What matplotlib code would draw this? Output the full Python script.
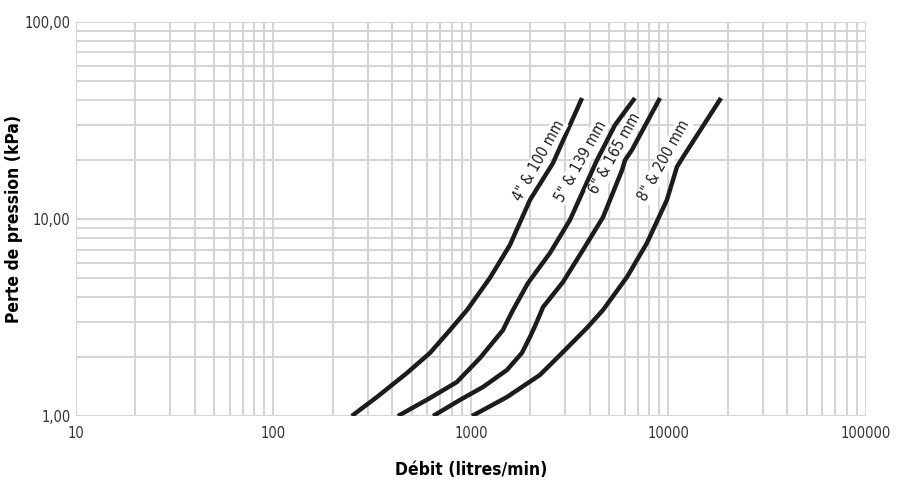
import matplotlib.pyplot as plt
from matplotlib.ticker import FixedLocator, LogLocator, NullFormatter

plt.rcParams['font.family'] = ['DejaVu Sans']
plt.rcParams['font.stretch'] = 'condensed'

# debit (litres/min) vs perte de pression (kPa)
q_4in = [249, 334, 474, 620, 783, 955, 1247, 1575, 1990, 2600, 3650]
p_4in = [1.0, 1.248, 1.653, 2.09, 2.73, 3.45, 5.02, 7.38, 12.5, 19.2, 41.1]

q_5in = [427, 620, 849, 1111, 1452, 1538, 1632, 1944, 2512, 3170, 4345, 5360, 6760]
p_5in = [1.0, 1.234, 1.488, 1.97, 2.73, 3.07, 3.45, 4.73, 6.72, 9.88, 19.9, 30.0, 41.1]

q_6in = [643, 879, 1151, 1521, 1811, 1990, 2110, 2317, 2925, 3690, 4660, 5820, 6030, 6530, 9060]
p_6in = [1.0, 1.206, 1.404, 1.712, 2.09, 2.52, 2.86, 3.57, 4.79, 6.96, 10.2, 17.7, 19.9, 22.4, 41.1]

q_8in = [1012, 1521, 2233, 2825, 3865, 4660, 6170, 7780, 9820, 11040, 11840, 18450]
p_8in = [1.0, 1.248, 1.615, 2.04, 2.80, 3.45, 5.08, 7.55, 12.5, 18.4, 20.6, 41.1]

labels = ['4" & 100 mm', '5" & 139 mm', '6" & 165 mm', '8" & 200 mm']
label_q = [2208, 3605, 5360, 9490]
label_p = [19.7, 19.7, 21.4, 19.7]

xticks = [10, 100, 1000, 10000, 100000]
yticks = [1, 10, 100]
ytick_labels = ['1,00', '10,00', '100,00']

fig = plt.figure(figsize=(8.97, 4.83), dpi=100)
ax = fig.add_axes([0.0847, 0.1387, 0.8807, 0.8158])

grid_col = '#d4d4d4'
for q, p in [(q_4in, p_4in), (q_5in, p_5in), (q_6in, p_6in), (q_8in, p_8in)]:
    ax.plot(q, p, color='#1c1c1c', lw=3.2, solid_capstyle='butt',
            solid_joinstyle='round', zorder=3)

for txt, x, y in zip(labels, label_q, label_p):
    ax.text(x, y, txt, rotation=61, rotation_mode='anchor', ha='center', va='center',
            fontsize=10.8, color='#1c1c1c', zorder=4,
            bbox=dict(facecolor='white', edgecolor='none', pad=0.8))

ax.set_xscale('log')
ax.set_yscale('log')
ax.set_xlim(10, 100000)
ax.set_ylim(1, 100)

ax.xaxis.set_major_locator(FixedLocator(xticks))
ax.set_xticklabels([str(t) for t in xticks])
ax.yaxis.set_major_locator(FixedLocator(yticks))
ax.set_yticklabels(ytick_labels)
ax.xaxis.set_minor_locator(LogLocator(base=10, subs=range(2, 10)))
ax.yaxis.set_minor_locator(LogLocator(base=10, subs=range(2, 10)))
ax.xaxis.set_minor_formatter(NullFormatter())
ax.yaxis.set_minor_formatter(NullFormatter())

ax.grid(True, which='both', color=grid_col, lw=1.4, zorder=0)
ax.set_axisbelow(True)
for s in ax.spines.values():
    s.set_visible(False)
ax.tick_params(which='both', length=0, labelsize=10.5, colors='#333333')
ax.tick_params(axis='y', pad=4)
ax.tick_params(axis='x', pad=7)

ax.set_xlabel('Débit (litres/min)', fontsize=12.5, fontweight='bold', va='center')
ax.set_ylabel('Perte de pression (kPa)', fontsize=12.5, fontweight='bold', va='center')
ax.xaxis.set_label_coords(0.5, -0.137)
ax.yaxis.set_label_coords(-0.078, 0.5)

fig.savefig('out.png', dpi=100)
